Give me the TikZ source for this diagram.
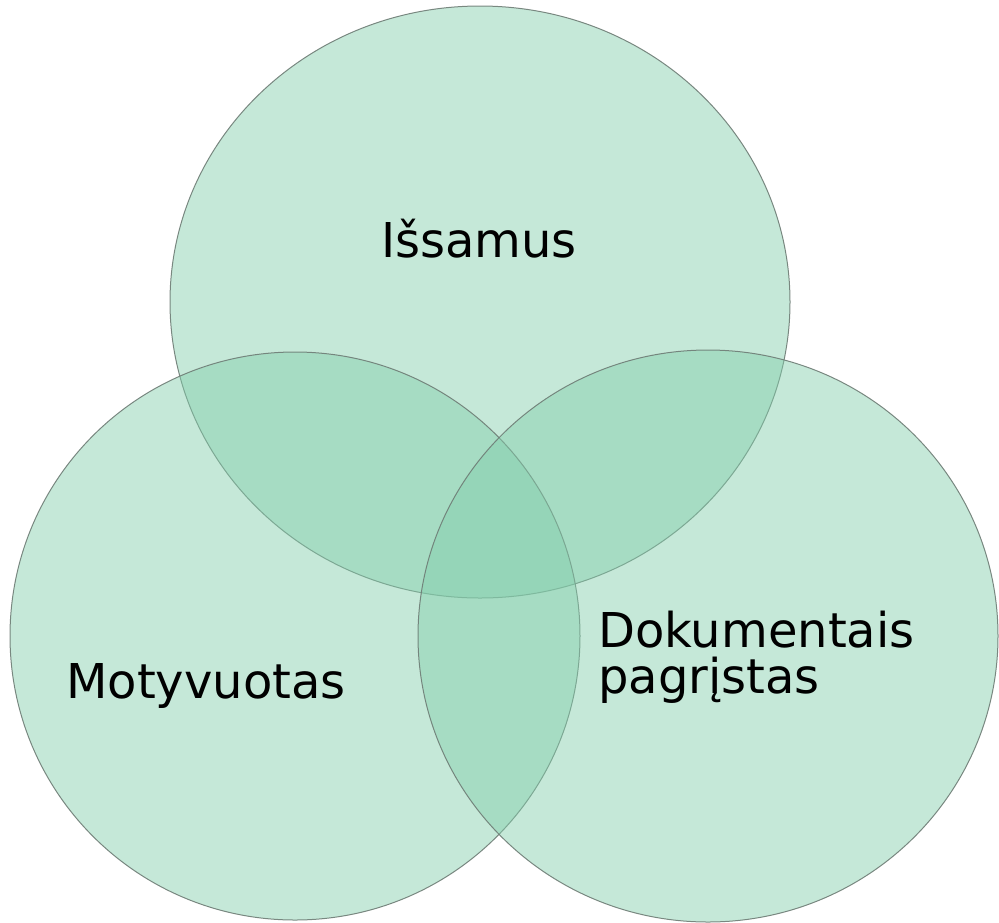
\documentclass[tikz,border=0pt]{standalone}
\usepackage{fontspec}
\setmainfont{DejaVu Sans}
\definecolor{venn}{RGB}{130,206,171}
\definecolor{vennedge}{RGB}{110,124,117}
\tikzset{
  vennset/.style={fill=venn, fill opacity=0.466, draw=vennedge, draw opacity=0.9, line width=1pt},
  lbl/.style={anchor=base west, inner sep=0pt, font=\fontsize{48}{46}\selectfont, text=black}
}
\begin{document}
\begin{tikzpicture}[x=1pt,y=-1pt]
\useasboundingbox (0,0) rectangle (999,922);
\begin{scope}
\clip (0,0) rectangle (999,922);
\draw[vennset] (480,302) ellipse [x radius=310, y radius=296];
\draw[vennset] (295,636) ellipse [x radius=285, y radius=284];
\draw[vennset] (708,636) ellipse [x radius=290, y radius=286];
\end{scope}
\node[lbl] (top) at (381,257) {Išsamus};
\node[lbl] (left) at (66,698) {Motyvuotas};
\node[lbl, align=left, anchor=north west] (right) at (598,611) {Dokumentais\\pagrįstas};
\end{tikzpicture}
\end{document}
